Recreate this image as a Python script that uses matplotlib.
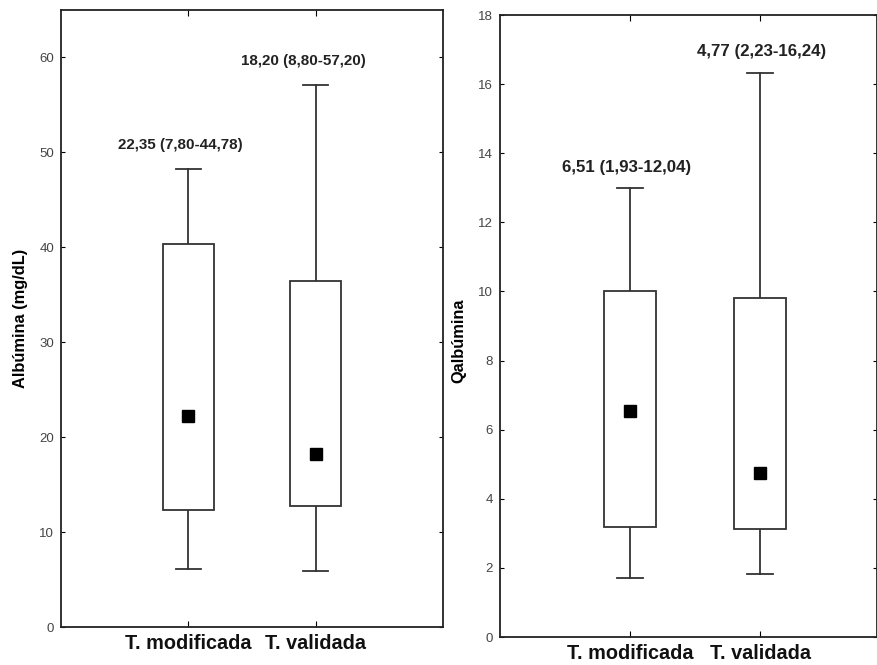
import matplotlib.pyplot as plt
import numpy as np

plt.rcParams['font.family'] = ['Liberation Sans', 'DejaVu Sans']

groups = ['T. modificada', 'T. validada']

# Albumina (mg/dL)
alb_median = [22.2, 18.2]
alb_q1 = [12.3, 12.7]
alb_q3 = [40.4, 36.4]
alb_min = [6.1, 5.9]
alb_max = [48.3, 57.1]
alb_text = ['22,35 (7,80-44,78)', '18,20 (8,80-57,20)']

# Qalbumina
q_median = [6.53, 4.74]
q_q1 = [3.18, 3.12]
q_q3 = [10.0, 9.8]
q_min = [1.7, 1.82]
q_max = [13.0, 16.33]
q_text = ['6,51 (1,93-12,04)', '4,77 (2,23-16,24)']

W, H = 877, 665
fig = plt.figure(figsize=(W / 100, H / 100), dpi=100)


def px_axes(x0, y0, x1, y1):
    return fig.add_axes([x0 / W, 1 - y1 / H, (x1 - x0) / W, (y1 - y0) / H])


def draw_panel(ax, med, q1, q3, lo, hi, labels, ylim, yticks, ylabel,
               text_off, text_dx, text_size, xmax):
    x = np.arange(1, len(groups) + 1)
    for i, xi in enumerate(x):
        ax.add_patch(plt.Rectangle((xi - 0.2, q1[i]), 0.4, q3[i] - q1[i],
                                   facecolor='white', edgecolor='#333333', lw=1.3, zorder=2))
        ax.plot([xi, xi], [lo[i], q1[i]], color='#333333', lw=1.3, zorder=1)
        ax.plot([xi, xi], [q3[i], hi[i]], color='#333333', lw=1.3, zorder=1)
        ax.plot([xi - 0.1, xi + 0.1], [lo[i], lo[i]], color='#333333', lw=1.3)
        ax.plot([xi - 0.1, xi + 0.1], [hi[i], hi[i]], color='#333333', lw=1.3)
        ax.plot(xi, med[i], 's', color='black', ms=8, zorder=3)
        ax.text(xi + text_dx[i], hi[i] + text_off, labels[i], ha='center', va='center',
                fontsize=text_size, fontweight='bold', color='#222222')
    ax.set_xlim(0, xmax)
    ax.set_ylim(*ylim)
    ax.set_yticks(yticks)
    ax.set_xticks(x)
    ax.set_xticklabels(groups, fontsize=14.3, fontweight='bold', color='#111111')
    ax.set_ylabel(ylabel, fontsize=11.8, fontweight='bold')
    ax.tick_params(axis='y', direction='in', length=3, labelsize=9.5,
                   labelcolor='#444444', right=True, pad=5)
    ax.tick_params(axis='x', direction='in', length=4, top=True, pad=5)
    for s in ax.spines.values():
        s.set_linewidth(1.3)
        s.set_color('#222222')


ax1 = px_axes(61, 10, 443, 627)
draw_panel(ax1, alb_median, alb_q1, alb_q3, alb_min, alb_max, alb_text,
           (0, 65), [0, 10, 20, 30, 40, 50, 60], 'Albúmina (mg/dL)',
           2.5, [-0.06, -0.1], 10.9, 3.0)
ax1.yaxis.set_label_coords(-0.086, 0.5)

ax2 = px_axes(500, 15, 877, 637)
draw_panel(ax2, q_median, q_q1, q_q3, q_min, q_max, q_text,
           (0, 18), [0, 2, 4, 6, 8, 10, 12, 14, 16, 18], 'Qalbúmina',
           0.6, [-0.03, 0.01], 12.2, 2.9)
ax2.yaxis.set_label_coords(-0.088, 0.477)

fig.savefig('out.png', dpi=100)
